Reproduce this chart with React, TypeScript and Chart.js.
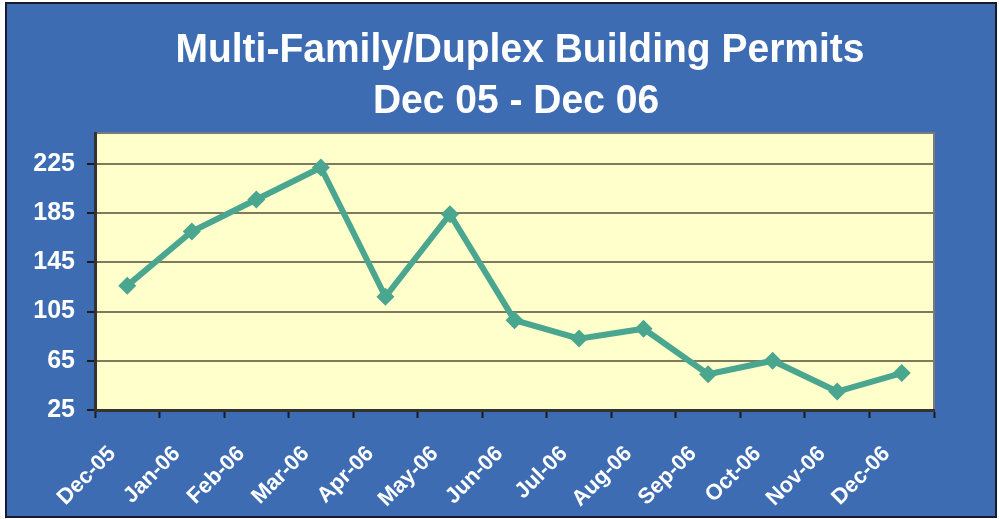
import React, { useEffect, useRef } from "react";
import { Chart, registerables } from "chart.js";

Chart.register(...registerables);

const categories = ["Dec-05", "Jan-06", "Feb-06", "Mar-06", "Apr-06", "May-06", "Jun-06", "Jul-06", "Aug-06", "Sep-06", "Oct-06", "Nov-06", "Dec-06"];
const permits = [126, 170, 196, 222, 117, 184, 98, 83, 91, 54, 65, 40, 55];
const yTicks = [25, 65, 105, 145, 185, 225];
const titleLines = ["Multi-Family/Duplex Building Permits", "Dec 05 - Dec 06"];

const BLUE = "#3D6CB3";
const YELLOW = "#FFFFCC";
const LINE = "#4AA68F";
const FONT = "'Liberation Sans', Arial, sans-serif";

const backgroundPlugin = {
  id: "bgPlugin",
  beforeDraw(chart: any) {
    const { ctx, width, height, chartArea } = chart;
    ctx.save();
    ctx.fillStyle = "#ffffff";
    ctx.fillRect(0, 0, width, height);
    ctx.fillStyle = BLUE;
    ctx.fillRect(6, 3, width - 9, height - 5);
    ctx.strokeStyle = "#1a1a2a";
    ctx.lineWidth = 2;
    ctx.strokeRect(6, 3, width - 9, height - 5);
    ctx.fillStyle = YELLOW;
    ctx.fillRect(chartArea.left, chartArea.top, chartArea.right - chartArea.left, chartArea.bottom - chartArea.top);
    ctx.strokeStyle = "#7a7a7a";
    ctx.lineWidth = 2;
    ctx.strokeRect(chartArea.left, chartArea.top, chartArea.right - chartArea.left, chartArea.bottom - chartArea.top);
    // title
    ctx.fillStyle = "#ffffff";
    ctx.font = `bold 40px ${FONT}`;
    ctx.textAlign = "center";
    ctx.textBaseline = "alphabetic";
    const cx = 520;
    ctx.save();
    ctx.translate(cx, 62);
    ctx.scale(0.975, 1);
    ctx.fillText(titleLines[0], 0, 0);
    ctx.restore();
    ctx.save();
    ctx.translate(cx - 4, 113);
    ctx.scale(0.975, 1);
    ctx.fillText(titleLines[1], 0, 0);
    ctx.restore();
    ctx.restore();
  },
};

export default function App() {
  const ref = useRef<HTMLCanvasElement | null>(null);
  useEffect(() => {
    document.body.style.margin = "0";
    const canvas = ref.current!;
    const chart = new Chart(canvas, {
      type: "line",
      data: {
        labels: categories,
        datasets: [
          {
            data: permits,
            borderColor: LINE,
            backgroundColor: LINE,
            borderWidth: 6,
            pointStyle: "rectRot",
            pointRadius: 9,
            pointHoverRadius: 9,
            pointBackgroundColor: LINE,
            pointBorderColor: LINE,
            pointBorderWidth: 0,
            tension: 0,
          },
        ],
      },
      options: {
        animation: false,
        responsive: false,
        devicePixelRatio: 1,
        layout: { padding: { top: 133, right: 65, left: 0, bottom: 0 } },
        plugins: {
          legend: { display: false },
          title: { display: false },
          tooltip: { enabled: false },
        },
        scales: {
          x: {
            type: "category",
            offset: true,
            afterFit(scale: any) {
              scale.height = 109;
            },
            grid: {
              offset: true,
              drawOnChartArea: false,
              drawTicks: true,
              tickLength: 8,
              tickColor: "#1a1a1a",
              tickWidth: 2,
            },
            border: { display: true, color: "#333333", width: 3 },
            ticks: {
              color: "#ffffff",
              font: { family: FONT, size: 22, weight: "bold" },
              minRotation: 45,
              maxRotation: 45,
              autoSkip: false,
              padding: 23,
              labelOffset: -15,
            },
          },
          y: {
            min: 25,
            max: 250,
            afterFit(scale: any) {
              scale.width = 95;
            },
            afterBuildTicks(scale: any) {
              scale.ticks = yTicks.map((v) => ({ value: v }));
            },
            grid: {
              color: "#7d7a5f",
              lineWidth: 2,
              drawTicks: true,
              tickLength: 8,
              tickColor: "#1a1a1a",
              tickWidth: 2,
            },
            border: { display: true, color: "#333333", width: 3 },
            ticks: {
              color: "#ffffff",
              font: { family: FONT, size: 25, weight: "bold" },
              padding: 12,
            },
          },
        },
      },
      plugins: [backgroundPlugin],
    });
    return () => chart.destroy();
  }, []);
  return (
    <div style={{ width: 999, height: 519 }}>
      <canvas ref={ref} width={999} height={519} style={{ display: "block", width: 999, height: 519 }} />
    </div>
  );
}
